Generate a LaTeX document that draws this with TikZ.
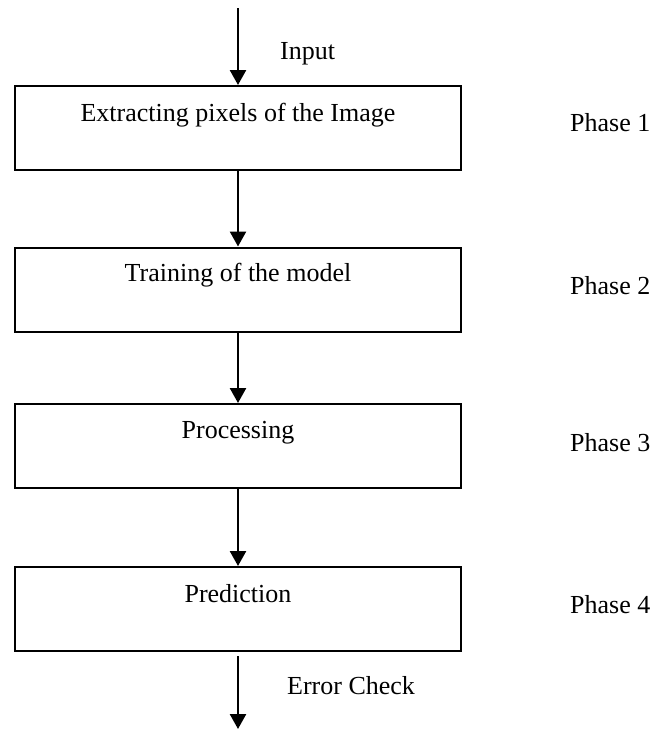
\documentclass[tikz,border=0pt]{standalone}
\usepackage{fontspec}
\setmainfont{Liberation Serif}
\usetikzlibrary{arrows.meta}

\begin{document}
\begin{tikzpicture}[
    x=1pt, y=1pt,
    stage/.style={draw, line width=2pt, minimum width=446pt,
        minimum height=84pt, inner sep=0pt},
    flow/.style={line width=2.5pt, -{Triangle[length=15pt,width=16pt]}},
    lbl/.style={font=\fontsize{26}{31}\selectfont, inner sep=0pt}
]
\useasboundingbox (0,0) rectangle (662,-729);

\node[stage] (p1) at (238,-128) {};
\node[stage] (p2) at (238,-289.5) {};
\node[stage] (p3) at (238,-446) {};
\node[stage] (p4) at (238,-609) {};

\coordinate (in) at (238,-8);
\coordinate (out) at (238,-729);

\node[lbl,anchor=base] (t1) at ([yshift=-36pt]p1.north) {Extracting pixels of the Image};
\node[lbl,anchor=base] (t2) at ([yshift=-35pt]p2.north) {Training of the model};
\node[lbl,anchor=base] (t3) at ([yshift=-35pt]p3.north) {Processing};
\node[lbl,anchor=base] (t4) at ([yshift=-36pt]p4.north) {Prediction};

\node[lbl,anchor=base west] (ph1) at ([xshift=108pt,yshift=-46pt]p1.north east) {Phase 1};
\node[lbl,anchor=base west] (ph2) at ([xshift=108pt,yshift=-48pt]p2.north east) {Phase 2};
\node[lbl,anchor=base west] (ph3) at ([xshift=108pt,yshift=-48pt]p3.north east) {Phase 3};
\node[lbl,anchor=base west] (ph4) at ([xshift=108pt,yshift=-47pt]p4.north east) {Phase 4};

\node[lbl,anchor=base west] (inlbl) at ([xshift=42pt,yshift=26pt]p1.north) {Input};
\node[lbl,anchor=base west] (errlbl) at ([xshift=49pt,yshift=-42pt]p4.south) {Error Check};

\draw[flow] (in) -- (p1.north);
\draw[flow] (p1.south) -- (p2.north);
\draw[flow] (p2.south) -- (p3.north);
\draw[flow] (p3.south) -- (p4.north);
\draw[flow] ([yshift=-4pt]p4.south) -- (out);
\end{tikzpicture}
\end{document}
